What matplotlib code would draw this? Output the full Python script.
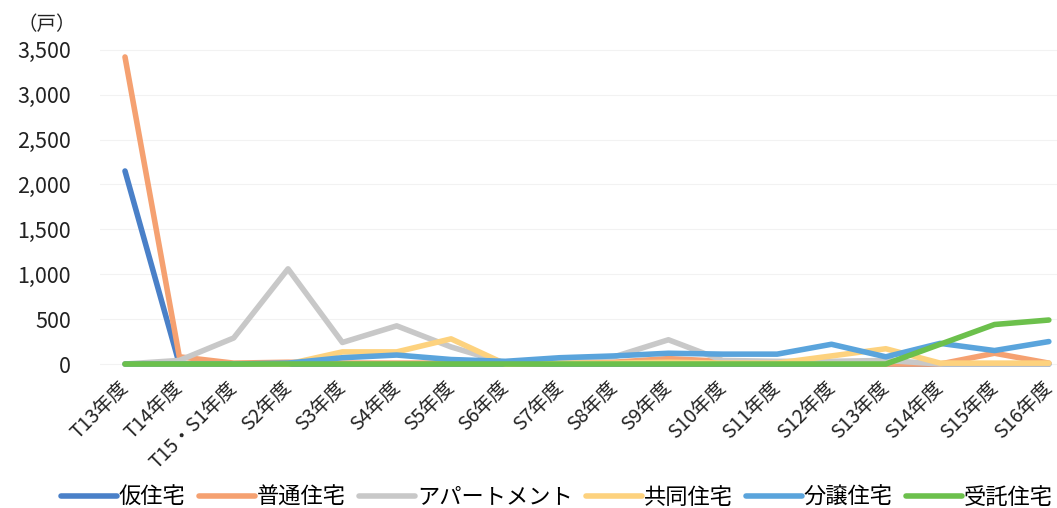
import matplotlib
matplotlib.use('Agg')
import matplotlib.pyplot as plt
from matplotlib.ticker import FuncFormatter

plt.rcParams['font.family'] = ['Noto Sans CJK JP', 'DejaVu Sans']

# 年度別の住宅供給戸数
categories = ['T13年度', 'T14年度', 'T15・S1年度', 'S2年度', 'S3年度', 'S4年度',
              'S5年度', 'S6年度', 'S7年度', 'S8年度', 'S9年度', 'S10年度',
              'S11年度', 'S12年度', 'S13年度', 'S14年度', 'S15年度', 'S16年度']

kari = [2150, 0, 0, 0, 0, 0, 0, 0, 0, 0, 0, 0, 0, 0, 0, 0, 0, 0]
futsu = [3420, 80, 10, 20, 10, 10, 10, 10, 20, 20, 60, 30, 20, 10, 0, 0, 120, 10]
apart = [0, 40, 290, 1060, 240, 425, 190, 10, 60, 80, 270, 40, 30, 30, 40, 0, 0, 0]
kyodo = [0, 0, 0, 0, 135, 135, 280, 0, 10, 10, 20, 10, 10, 90, 170, 10, 10, 10]
bunjo = [0, 0, 0, 10, 70, 100, 50, 30, 70, 90, 120, 110, 110, 220, 80, 230, 150, 250]
jutaku = [0, 0, 0, 0, 0, 0, 0, 0, 0, 0, 0, 0, 0, 0, 0, 220, 440, 490]

series = [
    ('仮住宅', kari, '#4a80c8'),
    ('普通住宅', futsu, '#f5a171'),
    ('アパートメント', apart, '#c8c8c8'),
    ('共同住宅', kyodo, '#fdd27e'),
    ('分譲住宅', bunjo, '#5aa4dc'),
    ('受託住宅', jutaku, '#6cc04c'),
]

fig = plt.figure(figsize=(10.57, 5.08), dpi=100, facecolor='white')
ax = fig.add_axes([100 / 1057, 1 - 369.4 / 508, 957 / 1057, 325 / 508])

x = list(range(len(categories)))
for name, vals, col in series:
    ax.plot(x, vals, color=col, linewidth=4.0, label=name,
            solid_capstyle='round', solid_joinstyle='round')

ax.set_xlim(-0.46, 17.15)
ax.set_ylim(-60, 3560)
ax.set_yticks(range(0, 3501, 500))
ax.yaxis.set_major_formatter(FuncFormatter(lambda v, p: f'{int(v):,}'))
ax.grid(axis='y', color='#f2f2f2', linewidth=0.8)
ax.set_axisbelow(True)

ax.set_xticks(x)
ax.set_xticklabels(categories, rotation=45, ha='right', va='center',
                   rotation_mode='anchor')
ax.tick_params(axis='x', length=0, pad=11, labelsize=14, colors='#222222')
ax.tick_params(axis='y', length=0, pad=21, labelsize=15.5, colors='#222222')

for s in ax.spines.values():
    s.set_visible(False)

fig.text(47 / 1057, 1 - 25 / 508, '（戸）', fontsize=14, ha='center', va='center',
         color='#222222')

fig.legend(loc='center', bbox_to_anchor=(0.527, 1 - 497 / 508), ncol=6,
           frameon=False, fontsize=16, handlelength=2.5, handletextpad=0.1,
           columnspacing=0.6, borderaxespad=0)

fig.savefig('out.png', dpi=100, facecolor='white')
